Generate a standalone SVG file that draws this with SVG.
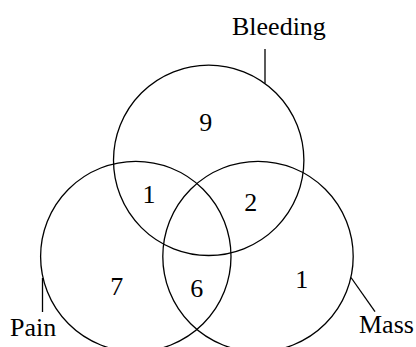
<svg xmlns="http://www.w3.org/2000/svg" width="416" height="347" viewBox="0 0 416 347">
<style>
.c{fill:none;stroke:#000;stroke-width:1.3}
.l{fill:none;stroke:#000;stroke-width:1.3}
.m{text-anchor:middle}
</style>
<rect width="416" height="347" fill="#fff"/>
<g font-family="Liberation Serif, Times New Roman, serif" font-size="26" fill="#000">
<g id="bleeding">
<circle class="c" cx="208.7" cy="160.3" r="95.2"/>
<text x="232" y="35">Bleeding</text>
</g>
<g id="pain">
<circle class="c" cx="135.8" cy="256.5" r="95.2"/>
<text x="10" y="336">Pain</text>
</g>
<g id="mass">
<circle class="c" cx="258" cy="256.5" r="95.2"/>
<text x="359" y="333">Mass</text>
</g>
<g id="connectors">
<line class="l" x1="265" y1="49" x2="265" y2="83.5"/>
<line class="l" x1="42.5" y1="278" x2="42.5" y2="312"/>
<line class="l" x1="351" y1="277.5" x2="375" y2="311.7"/>
</g>
<g id="counts">
<text class="m" x="205.7" y="131">9</text>
<text class="m" x="149" y="203.3">1</text>
<text class="m" x="250.7" y="210.7">2</text>
<text class="m" x="116.7" y="295">7</text>
<text class="m" x="196.7" y="296.7">6</text>
<text class="m" x="301.7" y="288.3">1</text>
</g>
</g>
</svg>
